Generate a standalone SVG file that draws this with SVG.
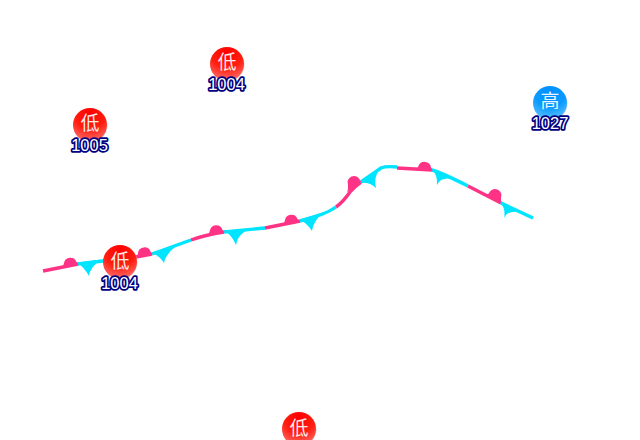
<svg xmlns="http://www.w3.org/2000/svg" width="640" height="440" viewBox="0 0 640 440">
<style>
.warm{fill:none;stroke:#ff3385;stroke-width:3.400}
.cold{fill:none;stroke:#00e5ff;stroke-width:3.400}
.bump{fill:#ff3385}
.barb{fill:#00e5ff}
.shadow{fill:#b8b8b8;opacity:.6}
.sym{font:19px "Noto Sans CJK SC","Liberation Sans",sans-serif;fill:#fff;fill-opacity:.92;text-anchor:middle}
.val{font:16.500px "Liberation Sans",Arial,sans-serif;fill:#fff;stroke:#000080;stroke-width:3.500;paint-order:stroke;stroke-linejoin:round;text-anchor:middle}
</style>
<defs>
<radialGradient id="lo" cx=".5" cy=".15" r=".95"><stop offset="0" stop-color="#ff0000"/><stop offset=".5" stop-color="#ff1f10"/><stop offset="1" stop-color="#ff8080"/></radialGradient>
<radialGradient id="hi" cx=".5" cy=".15" r=".95"><stop offset="0" stop-color="#0090ff"/><stop offset=".5" stop-color="#0a9aff"/><stop offset="1" stop-color="#70ccff"/></radialGradient>
</defs>
<rect width="640" height="440" fill="#fff"/>
<g id="front">
<path class="warm" d="M43 271L78 264"/>
<path class="cold" d="M78 264L136 257"/>
<path class="warm" d="M136 257L152 254"/>
<path class="cold" d="M152 254L191 240"/>
<path class="warm" d="M191 240Q205 235 224 232"/>
<path class="cold" d="M224 232L265 228"/>
<path class="warm" d="M265 228L300 221"/>
<path class="cold" d="M300 221Q325 215 336 207"/>
<path class="warm" d="M336 207Q343 202 350 192Q354 187 361 182"/>
<path class="cold" d="M361 182L381 168Q386 166 397 167"/>
<path class="warm" d="M397 168L432 170"/>
<path class="cold" d="M432 170Q440 172 468 186"/>
<path class="warm" d="M468 186L501 203"/>
<path class="cold" d="M501 203L533 218"/>
<path class="bump" d="M62 267Q63.500 266 64 263A6.500 6.500 0 0 1 76.500 262Q77 263 79 264Z"/>
<path class="bump" d="M136 257Q137.500 256 138 253A6.500 6.500 0 0 1 150.500 251.500Q151 253 153 254Z"/>
<path class="bump" d="M208 234Q209.500 233 210 230A6.500 6.500 0 0 1 222.500 230Q223 231 225 232Z"/>
<path class="bump" d="M283 224Q284.500 223 285 220A6.500 6.500 0 0 1 297.500 219Q298 220 300 221Z"/>
<path class="bump" d="M347 192Q348.500 189 348 185A6.500 6.500 0 0 1 360 180Q360 181 362 182Z"/>
<path class="bump" d="M416 169Q417.500 168 418.500 166A6.500 6.500 0 0 1 431 167.500Q431 169 433 170.500Z"/>
<path class="bump" d="M486 195Q488 195 489 193A6.500 6.500 0 0 1 501 198Q500.500 201 502 204Z"/>
<path class="barb" d="M77 262.500Q84 267 89 276Q90 267 101 259.500Z"/>
<path class="barb" d="M151 252.500Q160 256 164 263Q165 255 176 246Z"/>
<path class="barb" d="M224 230.500Q232 235 236 245Q237 235 249 229Z"/>
<path class="barb" d="M299 219.500Q307 223 312 231Q313 221 324 212Z"/>
<path class="barb" d="M360 183Q370 182 376 188Q373 178 381 166Z"/>
<path class="barb" d="M431 168Q438 175 437 185Q441 176 455 179.500Z"/>
<path class="barb" d="M500 202Q506 209 504 218Q508 209 523 213Z"/>
</g>
<g id="low-1"><circle class="shadow" cx="227.500" cy="64.500" r="17"/><circle cx="227" cy="64" r="17" fill="url(#lo)"/><text class="sym" x="227" y="69">低</text><text class="val" x="226.500" y="90">1004</text></g>
<g id="low-2"><circle class="shadow" cx="90.500" cy="125.500" r="17"/><circle cx="90" cy="125" r="17" fill="url(#lo)"/><text class="sym" x="90" y="130">低</text><text class="val" x="89.500" y="151">1005</text></g>
<g id="high-1"><circle class="shadow" cx="550.500" cy="103.500" r="17"/><circle cx="550" cy="103" r="17" fill="url(#hi)"/><text class="sym" x="550" y="108">高</text><text class="val" x="550" y="129">1027</text></g>
<g id="low-3"><circle class="shadow" cx="120.500" cy="262.500" r="17"/><circle cx="120" cy="262" r="17" fill="url(#lo)"/><text class="sym" x="120" y="268">低</text><text class="val" x="119.500" y="289">1004</text></g>
<g id="low-4"><circle class="shadow" cx="299.500" cy="429.500" r="17"/><circle cx="299" cy="429" r="17" fill="url(#lo)"/><text class="sym" x="299" y="435">低</text></g>
</svg>
